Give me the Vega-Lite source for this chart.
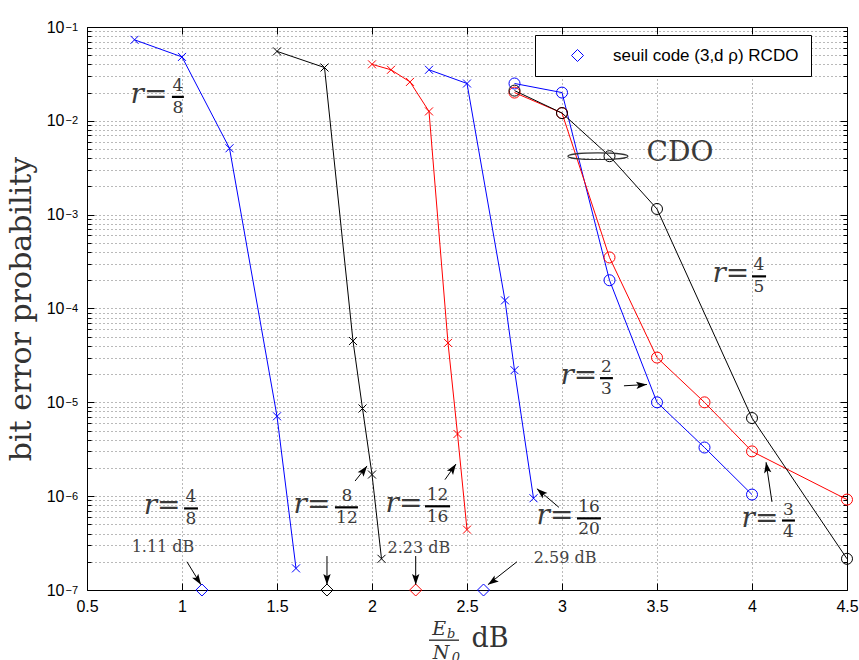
{
"$schema":"https://vega.github.io/schema/vega-lite/v6.json",
"width":760,"height":563,
"autosize":{"type":"none"},
"padding":{"left":87,"top":27,"right":12,"bottom":70},
"background":"white",
"config":{
  "view":{"stroke":"#000","strokeWidth":1},
  "axis":{"labelFont":"Liberation Sans","labelFontSize":16,"labelColor":"#000","tickColor":"#000","domain":false,"titleFont":"DejaVu Serif","titleFontWeight":"normal","titleColor":"#333"}
},
"datasets":{
 "curves":[
  {"curve":"r48","type":"RCDO","x":0.75,"y":0.073},
  {"curve":"r48","type":"RCDO","x":1.0,"y":0.048},
  {"curve":"r48","type":"RCDO","x":1.25,"y":0.0051},
  {"curve":"r48","type":"RCDO","x":1.5,"y":7.1e-6},
  {"curve":"r48","type":"RCDO","x":1.6,"y":1.7e-7},
  {"curve":"r812","type":"RCDO","x":1.5,"y":0.055},
  {"curve":"r812","type":"RCDO","x":1.75,"y":0.037},
  {"curve":"r812","type":"RCDO","x":1.9,"y":4.5e-5},
  {"curve":"r812","type":"RCDO","x":1.95,"y":8.6e-6},
  {"curve":"r812","type":"RCDO","x":2.0,"y":1.7e-6},
  {"curve":"r812","type":"RCDO","x":2.05,"y":2.15e-7},
  {"curve":"r1216","type":"RCDO","x":2.0,"y":0.040},
  {"curve":"r1216","type":"RCDO","x":2.1,"y":0.035},
  {"curve":"r1216","type":"RCDO","x":2.2,"y":0.026},
  {"curve":"r1216","type":"RCDO","x":2.3,"y":0.0126},
  {"curve":"r1216","type":"RCDO","x":2.4,"y":4.3e-5},
  {"curve":"r1216","type":"RCDO","x":2.45,"y":4.6e-6},
  {"curve":"r1216","type":"RCDO","x":2.5,"y":4.4e-7},
  {"curve":"r1620","type":"RCDO","x":2.3,"y":0.035},
  {"curve":"r1620","type":"RCDO","x":2.5,"y":0.025},
  {"curve":"r1620","type":"RCDO","x":2.7,"y":1.22e-4},
  {"curve":"r1620","type":"RCDO","x":2.75,"y":2.2e-5},
  {"curve":"r1620","type":"RCDO","x":2.85,"y":9.5e-7},
  {"curve":"c23","type":"CDO","x":2.75,"y":0.025},
  {"curve":"c23","type":"CDO","x":3.0,"y":0.020},
  {"curve":"c23","type":"CDO","x":3.25,"y":2.0e-4},
  {"curve":"c23","type":"CDO","x":3.5,"y":1.0e-5},
  {"curve":"c23","type":"CDO","x":3.75,"y":3.3e-6},
  {"curve":"c23","type":"CDO","x":4.0,"y":1.04e-6},
  {"curve":"c34","type":"CDO","x":2.75,"y":0.020},
  {"curve":"c34","type":"CDO","x":3.0,"y":0.0121},
  {"curve":"c34","type":"CDO","x":3.25,"y":3.5e-4},
  {"curve":"c34","type":"CDO","x":3.5,"y":3.0e-5},
  {"curve":"c34","type":"CDO","x":3.75,"y":1.0e-5},
  {"curve":"c34","type":"CDO","x":4.0,"y":3.0e-6},
  {"curve":"c34","type":"CDO","x":4.5,"y":9.2e-7},
  {"curve":"c45","type":"CDO","x":2.75,"y":0.021},
  {"curve":"c45","type":"CDO","x":3.0,"y":0.0121},
  {"curve":"c45","type":"CDO","x":3.25,"y":0.0042},
  {"curve":"c45","type":"CDO","x":3.5,"y":0.00115},
  {"curve":"c45","type":"CDO","x":4.0,"y":6.8e-6},
  {"curve":"c45","type":"CDO","x":4.5,"y":2.15e-7}
 ],
 "thr":[
  {"curve":"r48","x":1.105,"y":1e-7},
  {"curve":"r812","x":1.763,"y":1e-7},
  {"curve":"r1216","x":2.23,"y":1e-7},
  {"curve":"r1620","x":2.587,"y":1e-7}
 ],
 "arrows":[
  {"x":1.026,"y":2.0e-7,"x2":1.100,"y2":1.14e-7,"ang":147},
  {"x":1.763,"y":2.3e-7,"x2":1.763,"y2":1.14e-7,"ang":180},
  {"x":2.23,"y":2.3e-7,"x2":2.23,"y2":1.14e-7,"ang":180},
  {"x":2.763,"y":2.0e-7,"x2":2.61,"y2":1.14e-7,"ang":235},
  {"x":1.911,"y":1.45e-6,"x2":1.974,"y2":2.1e-6,"ang":37},
  {"x":2.384,"y":1.5e-6,"x2":2.442,"y2":2.2e-6,"ang":34},
  {"x":2.984,"y":7.6e-7,"x2":2.868,"y2":1.2e-6,"ang":311},
  {"x":3.326,"y":1.5e-5,"x2":3.447,"y2":1.55e-5,"ang":85},
  {"x":4.105,"y":8.7e-7,"x2":4.074,"y2":2.3e-6,"ang":351}
 ],
 "db":[
  {"t":"1.11 dB","x":0.9,"y":2.53e-7},
  {"t":"2.23 dB","x":2.247,"y":2.47e-7},
  {"t":"2.59 dB","x":3.016,"y":1.93e-7}
 ],
 "fr":[
  {"rx":0.826,"fx":0.979,"fx1":0.947,"fx2":1.01,"y":0.018,"num":"4","den":"8"},
  {"rx":0.895,"fx":1.047,"fx1":1.011,"fx2":1.084,"y":7.4e-7,"num":"4","den":"8"},
  {"rx":1.684,"fx":1.868,"fx1":1.805,"fx2":1.926,"y":7.6e-7,"num":"8","den":"12"},
  {"rx":2.168,"fx":2.345,"fx1":2.279,"fx2":2.411,"y":7.8e-7,"num":"12","den":"16"},
  {"rx":2.963,"fx":3.142,"fx1":3.079,"fx2":3.205,"y":5.8e-7,"num":"16","den":"20"},
  {"rx":4.042,"fx":4.192,"fx1":4.158,"fx2":4.226,"y":5.5e-7,"num":"3","den":"4"},
  {"rx":3.089,"fx":3.234,"fx1":3.2,"fx2":3.268,"y":1.81e-5,"num":"2","den":"3"},
  {"rx":3.889,"fx":4.037,"fx1":4.0,"fx2":4.074,"y":2.2e-4,"num":"4","den":"5"}
 ],
 "cdo":[{"t":"CDO","x":3.621,"y":0.0045}],
 "ell":[{"x":3.189,"y":0.0042}],
 "xt":[
  {"part":"main","t":"E","x":2.353,"y":3.30e-8},
  {"part":"main","t":"N","x":2.363,"y":1.83e-8},
  {"part":"sub","t":"b","x":2.416,"y":3.06e-8},
  {"part":"sub","t":"0","x":2.442,"y":1.70e-8},
  {"part":"unit","t":"dB","x":2.621,"y":2.45e-8}
 ],
 "xbar":[{"x":2.3,"x2":2.458,"y":2.92e-8}],
 "decades":[{"y":1e-7},{"y":1e-6},{"y":1e-5},{"y":1e-4},{"y":1e-3},{"y":1e-2},{"y":1e-1}]
},
"layer":[
 {"layer":[
  {"data":{"name":"curves"},
   "mark":{"type":"line","strokeWidth":1},
   "encoding":{
    "x":{"field":"x","type":"quantitative","scale":{"domain":[0.5,4.5],"nice":false,"zero":false},
     "axis":{"orient":"bottom","values":[0.5,1,1.5,2,2.5,3,3.5,4,4.5],"format":"~g","grid":true,"gridDash":[1,3],"gridColor":"#000","gridOpacity":0.55,"tickSize":-7,"labelPadding":15,"labelFlush":false,"labelOverlap":false,"title":null}},
    "y":{"field":"y","type":"quantitative","scale":{"type":"log","domain":[1e-7,0.1],"nice":false},
     "axis":{"orient":"left","values":[1e-7,2e-7,3e-7,4e-7,5e-7,6e-7,7e-7,8e-7,9e-7,1e-6,2e-6,3e-6,4e-6,5e-6,6e-6,7e-6,8e-6,9e-6,1e-5,2e-5,3e-5,4e-5,5e-5,6e-5,7e-5,8e-5,9e-5,1e-4,2e-4,3e-4,4e-4,5e-4,6e-4,7e-4,8e-4,9e-4,1e-3,2e-3,3e-3,4e-3,5e-3,6e-3,7e-3,8e-3,9e-3,1e-2,2e-2,3e-2,4e-2,5e-2,6e-2,7e-2,8e-2,9e-2,1e-1],
      "labelExpr":"abs(log(datum.value)/LN10 - round(log(datum.value)/LN10)) < 0.01 ? '10' : ''",
      "grid":true,"gridDash":[1,3],"gridColor":"#000","gridOpacity":0.55,
      "tickSize":{"condition":{"test":"abs(log(datum.value)/LN10 - round(log(datum.value)/LN10)) < 0.01","value":-7},"value":-4},
      "labelPadding":30,"labelOverlap":false,"labelFlush":false,
      "title":"bit error probability","titleFontSize":30,"titlePadding":10}},
    "color":{"field":"curve","type":"nominal","scale":{"domain":["r48","r812","r1216","r1620","c23","c34","c45"],"range":["#0000ff","#000000","#ff0000","#0000ff","#0000ff","#ff0000","#000000"]},"legend":null}
   }},
  {"data":{"name":"curves"},
   "transform":[{"filter":"datum.type == 'RCDO'"}],
   "mark":{"type":"point","shape":"M-1,-1L1,1M-1,1L1,-1","filled":false,"size":64,"strokeWidth":1,"opacity":1},
   "encoding":{
    "x":{"field":"x","type":"quantitative"},
    "y":{"field":"y","type":"quantitative"},
    "color":{"field":"curve","type":"nominal","legend":null}
   }},
  {"data":{"name":"curves"},
   "transform":[{"filter":"datum.type == 'CDO'"}],
   "mark":{"type":"point","shape":"circle","filled":false,"size":121,"strokeWidth":1,"opacity":1},
   "encoding":{
    "x":{"field":"x","type":"quantitative"},
    "y":{"field":"y","type":"quantitative"},
    "color":{"field":"curve","type":"nominal","legend":null}
   }},
  {"data":{"name":"thr"},
   "mark":{"type":"point","filled":false,"size":144,"strokeWidth":1,"opacity":1},
   "encoding":{
    "x":{"field":"x","type":"quantitative"},
    "y":{"field":"y","type":"quantitative"},
    "color":{"field":"curve","type":"nominal","legend":null},
    "shape":{"datum":"seuil code (3,d ρ) RCDO","type":"nominal","scale":{"range":["diamond"]},
     "legend":{"orient":"none","legendX":448,"legendY":8,"title":null,"strokeColor":"#000","fillColor":"#fff","padding":12,"symbolOffset":22,"labelOffset":27,"symbolSize":144,"symbolStrokeColor":"#0000ff","symbolFillColor":"transparent","symbolStrokeWidth":1,"labelFont":"Liberation Sans","labelFontSize":17,"labelColor":"#000","labelLimit":400}}
   }},
  {"data":{"name":"arrows"},
   "mark":{"type":"rule","color":"#000","strokeWidth":1},
   "encoding":{
    "x":{"field":"x","type":"quantitative"},
    "y":{"field":"y","type":"quantitative"},
    "x2":{"field":"x2"},
    "y2":{"field":"y2"}
   }},
  {"data":{"name":"arrows"},
   "mark":{"type":"point","shape":"M0,0L-0.55,1.6L0,1.25L0.55,1.6Z","filled":true,"color":"#000","size":180,"opacity":1,"strokeWidth":0},
   "encoding":{
    "x":{"field":"x2","type":"quantitative"},
    "y":{"field":"y2","type":"quantitative"},
    "angle":{"field":"ang","type":"quantitative","scale":null}
   }},
  {"data":{"name":"db"},
   "mark":{"type":"text","font":"DejaVu Serif","fontSize":16,"color":"#444","align":"center","baseline":"alphabetic"},
   "encoding":{
    "x":{"field":"x","type":"quantitative"},
    "y":{"field":"y","type":"quantitative"},
    "text":{"field":"t"}
   }},
  {"data":{"name":"fr"},
   "mark":{"type":"text","font":"DejaVu Serif","fontStyle":"italic","fontSize":28,"color":"#3a3a3a","align":"center","baseline":"alphabetic","dy":6},
   "encoding":{
    "x":{"field":"rx","type":"quantitative"},
    "y":{"field":"y","type":"quantitative"},
    "text":{"value":"r="}
   }},
  {"data":{"name":"fr"},
   "mark":{"type":"text","font":"DejaVu Serif","fontSize":17,"color":"#3a3a3a","align":"center","baseline":"alphabetic","dy":-6},
   "encoding":{
    "x":{"field":"fx","type":"quantitative"},
    "y":{"field":"y","type":"quantitative"},
    "text":{"field":"num"}
   }},
  {"data":{"name":"fr"},
   "mark":{"type":"text","font":"DejaVu Serif","fontSize":17,"color":"#3a3a3a","align":"center","baseline":"alphabetic","dy":16},
   "encoding":{
    "x":{"field":"fx","type":"quantitative"},
    "y":{"field":"y","type":"quantitative"},
    "text":{"field":"den"}
   }},
  {"data":{"name":"fr"},
   "mark":{"type":"rule","color":"#000","strokeWidth":2.2},
   "encoding":{
    "x":{"field":"fx1","type":"quantitative"},
    "x2":{"field":"fx2"},
    "y":{"field":"y","type":"quantitative"}
   }},
  {"data":{"name":"cdo"},
   "mark":{"type":"text","font":"DejaVu Serif","fontSize":28,"color":"#3a3a3a","align":"center","baseline":"middle"},
   "encoding":{
    "x":{"field":"x","type":"quantitative"},
    "y":{"field":"y","type":"quantitative"},
    "text":{"field":"t"}
   }},
  {"data":{"name":"ell"},
   "mark":{"type":"point","shape":"M-1,0A1,0.11,0,1,0,1,0A1,0.11,0,1,0,-1,0Z","filled":false,"color":"#333","size":3600,"strokeWidth":1.2,"opacity":1},
   "encoding":{
    "x":{"field":"x","type":"quantitative"},
    "y":{"field":"y","type":"quantitative"}
   }},
  {"data":{"name":"xt"},
   "transform":[{"filter":"datum.part == 'main'"}],
   "mark":{"type":"text","font":"DejaVu Serif","fontStyle":"italic","fontSize":19,"color":"#333","align":"center","baseline":"alphabetic"},
   "encoding":{
    "x":{"field":"x","type":"quantitative"},
    "y":{"field":"y","type":"quantitative"},
    "text":{"field":"t"}
   }},
  {"data":{"name":"xt"},
   "transform":[{"filter":"datum.part == 'sub'"}],
   "mark":{"type":"text","font":"DejaVu Serif","fontStyle":"italic","fontSize":13,"color":"#333","align":"center","baseline":"alphabetic"},
   "encoding":{
    "x":{"field":"x","type":"quantitative"},
    "y":{"field":"y","type":"quantitative"},
    "text":{"field":"t"}
   }},
  {"data":{"name":"xt"},
   "transform":[{"filter":"datum.part == 'unit'"}],
   "mark":{"type":"text","font":"DejaVu Serif","fontSize":27,"color":"#333","align":"center","baseline":"alphabetic"},
   "encoding":{
    "x":{"field":"x","type":"quantitative"},
    "y":{"field":"y","type":"quantitative"},
    "text":{"field":"t"}
   }},
  {"data":{"name":"xbar"},
   "mark":{"type":"rule","color":"#222","strokeWidth":1.3},
   "encoding":{
    "x":{"field":"x","type":"quantitative"},
    "x2":{"field":"x2"},
    "y":{"field":"y","type":"quantitative"}
   }}
 ]},
 {"data":{"name":"curves"},
  "mark":{"type":"point","opacity":0},
  "encoding":{
   "x":{"field":"x","type":"quantitative",
    "axis":{"orient":"top","values":[0.5,1,1.5,2,2.5,3,3.5,4,4.5],"labels":false,"grid":false,"domain":false,"tickSize":-7,"title":null}},
   "y":{"field":"y","type":"quantitative",
    "axis":{"orient":"right","values":[1e-7,2e-7,3e-7,4e-7,5e-7,6e-7,7e-7,8e-7,9e-7,1e-6,2e-6,3e-6,4e-6,5e-6,6e-6,7e-6,8e-6,9e-6,1e-5,2e-5,3e-5,4e-5,5e-5,6e-5,7e-5,8e-5,9e-5,1e-4,2e-4,3e-4,4e-4,5e-4,6e-4,7e-4,8e-4,9e-4,1e-3,2e-3,3e-3,4e-3,5e-3,6e-3,7e-3,8e-3,9e-3,1e-2,2e-2,3e-2,4e-2,5e-2,6e-2,7e-2,8e-2,9e-2,1e-1],"labels":false,"grid":false,"domain":false,
     "tickSize":{"condition":{"test":"abs(log(datum.value)/LN10 - round(log(datum.value)/LN10)) < 0.01","value":-7},"value":-4},"title":null}}
  }},
 {"data":{"name":"decades"},
  "mark":{"type":"point","opacity":0},
  "encoding":{
   "x":{"datum":1,"type":"quantitative","axis":null},
   "y":{"field":"y","type":"quantitative",
    "axis":{"orient":"left","values":[1e-7,1e-6,1e-5,1e-4,1e-3,1e-2,1e-1],"labelExpr":"'−' + round(-log(datum.value)/LN10)","labelFontSize":11,"labelAlign":"left","labelBaseline":"middle","labelDy":-8,"ticks":false,"tickSize":0,"labelPadding":22,"labelOverlap":false,"labelFlush":false,"grid":false,"domain":false,"title":null}}
  }}
],
"resolve":{"axis":{"x":"independent","y":"independent"}}
}
